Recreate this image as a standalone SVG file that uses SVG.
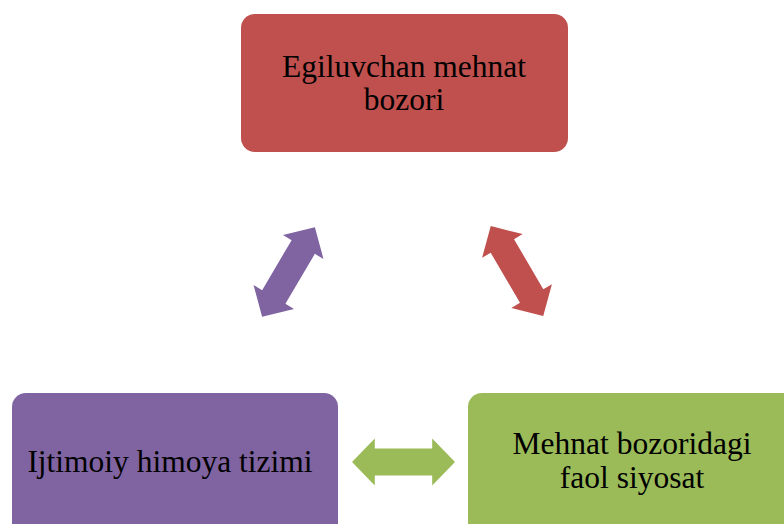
<svg xmlns="http://www.w3.org/2000/svg" width="784" height="524" viewBox="0 0 784 524">
<style>
text{font-family:"Liberation Serif","Times New Roman",serif;font-size:31.5px;fill:#000;text-anchor:middle}
</style>
<defs>
<path id="dbl" d="M -52,0 L -29,-23.5 L -29,-13.5 L 29,-13.5 L 29,-23.5 L 52,0 L 29,23.5 L 29,13.5 L -29,13.5 L -29,23.5 Z"/>
</defs>
<rect width="784" height="524" fill="#fff"/>
<g id="node-top">
<rect x="241" y="14" width="327" height="138" rx="14" fill="#C0504D"/>
<text x="404" y="77">Egiluvchan mehnat</text>
<text x="404" y="110">bozori</text>
</g>
<g id="node-left">
<rect x="12" y="393" width="326" height="150" rx="14" fill="#8064A2"/>
<text x="170" y="472">Ijtimoiy himoya tizimi</text>
</g>
<g id="node-right">
<rect x="468" y="393" width="340" height="150" rx="14" fill="#9BBB59"/>
<text x="632" y="454">Mehnat bozoridagi</text>
<text x="632" y="488">faol siyosat</text>
</g>
<g id="connectors">
<use href="#dbl" fill="#8064A2" transform="translate(288.5,272) rotate(120.5)"/>
<use href="#dbl" fill="#C0504D" transform="translate(517,271) rotate(59.7)"/>
<use href="#dbl" fill="#9BBB59" transform="translate(403.5,462) scale(0.99,1)"/>
</g>
</svg>
